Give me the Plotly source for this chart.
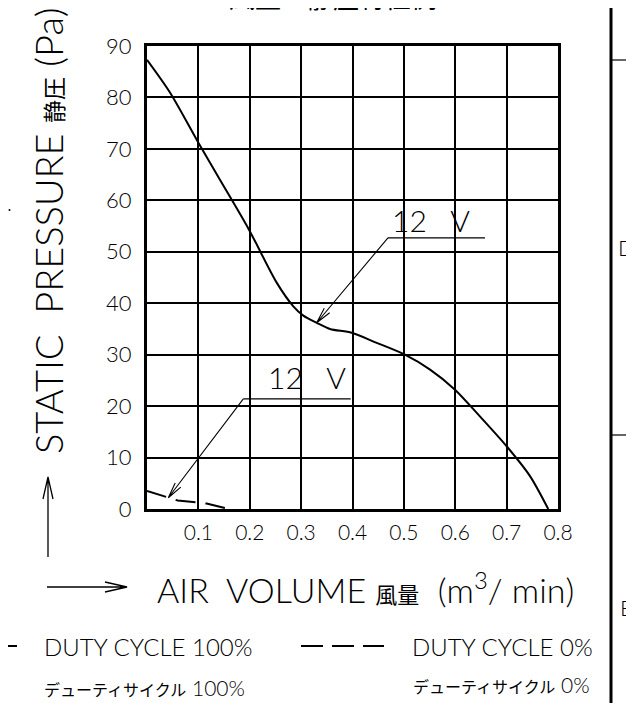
import math
import plotly.graph_objects as go

# ---- data ----
air_100 = [0.0, 0.045, 0.1, 0.142, 0.1985, 0.2524, 0.2848, 0.3043, 0.3303, 0.3562, 0.3984,
           0.4471, 0.502, 0.551, 0.5995, 0.648, 0.700, 0.7455, 0.781]
pres_100 = [87.3, 80.9, 71.2, 64.0, 54.3, 44.0, 39.4, 37.6, 36.2, 35.0, 34.25,
            32.3, 30.0, 27.1, 23.2, 18.0, 12.2, 6.4, 0.0]

air_0 = [0.0, 0.042, 0.06, 0.097, 0.116, 0.155]
pres_0 = [3.5, 2.2, 1.65, 1.3, 1.05, 0.1]

x_ticks = [0.1, 0.2, 0.3, 0.4, 0.5, 0.6, 0.7, 0.8]
x_tick_labels = ["0.1", "0.2", "0.3", "0.4", "0.5", "0.6", "0.7", "0.8"]
y_ticks = [0, 10, 20, 30, 40, 50, 60, 70, 80, 90]
y_tick_labels = ["0", "10", "20", "30", "40", "50", "60", "70", "80", "90"]

label_100 = "DUTY CYCLE 100%"
label_0 = "DUTY CYCLE 0%"
label_jp = "デューティサイクル"
title_text = "風量－静圧特性例"
volt_label = "12\u00a0\u00a0\u00a0V"

# leader annotations (tip, elbow, end of underline, text centre) in data units
lead_hi = dict(tip=(0.3303, 36.2), elbow=(0.469, 52.7), end=0.658, text=(0.553, 56.1))
lead_lo = dict(tip=(0.0415, 2.18), elbow=(0.1875, 21.4), end=0.3965, text=(0.3105, 25.7))

FONT = "Lato, Liberation Sans, Arial, sans-serif"
WT = 300
CJK = "Noto Sans CJK JP, sans-serif"

W, H = 634, 703
OFF = 8  # page body margin
L, T = 147 - OFF, 46 - OFF
PW, PH = 411, 463
R, B = W - L - PW, H - T - PH
X0, Y0 = 147, 509  # screen position of plot origin
XMAX, YMAX = 0.8, 90


def xp(px):
    return (px - X0) / PW


def yp(py):
    return (Y0 - py) / PH


def d2s(x, y):
    return X0 + x / XMAX * PW, Y0 - y / YMAX * PH


def s2d(px, py):
    return xp(px) * XMAX, yp(py) * YMAX


def head(tip_s, tail_s, length, half):
    tx, ty = tip_s
    sx, sy = tail_s
    dx, dy = tx - sx, ty - sy
    n = math.hypot(dx, dy)
    ux, uy = dx / n, dy / n
    bx, by = tx - ux * length, ty - uy * length
    return (bx - uy * half, by + ux * half), (bx + uy * half, by - ux * half)


def arrow_path_paper(tip_s, tail_s, length=22, half=5):
    h1, h2 = head(tip_s, tail_s, length, half)
    f = lambda p: f"{xp(p[0]):.5f},{yp(p[1]):.5f}"
    return f"M{f(tail_s)} L{f(tip_s)} M{f(h1)} L{f(tip_s)} L{f(h2)}"


def arrow_path_data(tip_d, tail_d, length=16, half=3.5):
    tip_s, tail_s = d2s(*tip_d), d2s(*tail_d)
    h1, h2 = head(tip_s, tail_s, length, half)
    f = lambda p: "{:.5f},{:.5f}".format(*s2d(*p))
    return f"M{f(tail_s)} L{f(tip_s)} M{f(h1)} L{f(tip_s)} L{f(h2)}"


def tfont(size):
    return dict(family=FONT, size=size, color="black", weight=WT)


fig = go.Figure()
fig.add_trace(go.Scatter(x=air_100, y=pres_100, mode="lines",
                         line=dict(color="black", width=2, shape="spline", smoothing=0.8),
                         showlegend=False, hoverinfo="skip"))
fig.add_trace(go.Scatter(x=air_0, y=pres_0, mode="lines", line=dict(color="black", width=2, dash="20px,10px"),
                         showlegend=False, hoverinfo="skip"))

shapes = []
annos = []

for ld in (lead_hi, lead_lo):
    ex, ey = ld["elbow"]
    shapes.append(dict(type="line", xref="x", yref="y", x0=ex, x1=ld["end"], y0=ey, y1=ey,
                       line=dict(color="black", width=1.2)))
    shapes.append(dict(type="path", xref="x", yref="y", path=arrow_path_data(ld["tip"], ld["elbow"]),
                       line=dict(color="black", width=1.1)))
    annos.append(dict(xref="x", yref="y", x=ld["text"][0], y=ld["text"][1], text=volt_label, showarrow=False,
                      font=tfont(30)))

# title (clipped at the top edge)
annos.append(dict(xref="paper", yref="paper", x=xp(332.5), y=yp(-3.5), text=title_text, showarrow=False,
                  xanchor="center", yanchor="middle", font=dict(family=CJK, size=26, color="black")))

# y-axis title and arrow
annos.append(dict(xref="paper", yref="paper", x=xp(48), y=yp(231), textangle=-90, showarrow=False,
                  xanchor="center", yanchor="middle",
                  text="STATIC\u00a0\u00a0PRESSURE <span style='font-family:Noto Sans CJK JP;font-size:23px;font-weight:400'>静圧</span>\u00a0(Pa)",
                  font=tfont(38)))
shapes.append(dict(type="path", xref="paper", yref="paper", path=arrow_path_paper((48, 477), (48, 557)),
                   line=dict(color="black", width=1.3)))
shapes.append(dict(type="circle", xref="paper", yref="paper", x0=xp(8.5), x1=xp(10.5), y0=yp(211), y1=yp(209),
                   fillcolor="black", line=dict(width=0)))

# x-axis title and arrow
shapes.append(dict(type="path", xref="paper", yref="paper", path=arrow_path_paper((127, 587), (47, 587)),
                   line=dict(color="black", width=1.3)))
annos.append(dict(xref="paper", yref="paper", x=xp(155), y=yp(588), xanchor="left", yanchor="middle",
                  showarrow=False,
                  text="AIR\u00a0\u00a0VOLUME <span style='font-family:Noto Sans CJK JP;font-size:22px;font-weight:400'>風量</span>\u00a0\u00a0(m<sup>3</sup>/\u00a0min)",
                  font=tfont(34)))

# legend samples
shapes.append(dict(type="line", xref="paper", yref="paper", x0=xp(-10), x1=xp(17), y0=yp(646), y1=yp(646),
                   line=dict(color="black", width=2)))
shapes.append(dict(type="line", xref="paper", yref="paper", x0=xp(301), x1=xp(384), y0=yp(646), y1=yp(646),
                   line=dict(color="black", width=2, dash="22px,9px")))
annos.append(dict(xref="paper", yref="paper", x=xp(42), y=yp(646), xanchor="left", yanchor="middle",
                  showarrow=False, text=label_100, font=tfont(24)))
annos.append(dict(xref="paper", yref="paper", x=xp(410), y=yp(646), xanchor="left", yanchor="middle",
                  showarrow=False, text=label_0, font=tfont(24)))
annos.append(dict(xref="paper", yref="paper", x=xp(42), y=yp(688), xanchor="left", yanchor="middle",
                  showarrow=False,
                  text=f"<span style='font-family:Noto Sans CJK JP;font-size:16px;font-weight:400'>{label_jp}</span>\u00a0100%",
                  font=tfont(21)))
annos.append(dict(xref="paper", yref="paper", x=xp(411), y=yp(685), xanchor="left", yanchor="middle",
                  showarrow=False,
                  text=f"<span style='font-family:Noto Sans CJK JP;font-size:16px;font-weight:400'>{label_jp}</span>\u00a00%",
                  font=tfont(21)))

# drawing frame on the right
shapes.append(dict(type="line", xref="paper", yref="paper", x0=xp(611), x1=xp(611), y0=yp(-10), y1=yp(720),
                   line=dict(color="black", width=3)))
shapes.append(dict(type="line", xref="paper", yref="paper", x0=xp(611), x1=xp(640), y0=yp(60), y1=yp(60),
                   line=dict(color="black", width=1.2)))
shapes.append(dict(type="line", xref="paper", yref="paper", x0=xp(611), x1=xp(627), y0=yp(435), y1=yp(435),
                   line=dict(color="black", width=1.2)))
annos.append(dict(xref="paper", yref="paper", x=xp(626.5), y=yp(247.5), xanchor="center", showarrow=False,
                  text="D", font=tfont(22)))
annos.append(dict(xref="paper", yref="paper", x=xp(626.5), y=yp(622.5), xanchor="center", showarrow=False,
                  text="E", font=tfont(22)))

fig.update_layout(
    width=W, height=H,
    margin=dict(l=L, r=R, t=T, b=B, pad=0),
    paper_bgcolor="white", plot_bgcolor="white",
    shapes=shapes, annotations=annos,
    showlegend=False,
)
fig.update_xaxes(range=[0, XMAX], tickvals=x_ticks, ticktext=x_tick_labels, showgrid=True,
                 gridcolor="black", gridwidth=2, showline=True, mirror=True, linecolor="black", linewidth=3,
                 zeroline=False, ticks="", ticklabelstandoff=3,
                 tickfont=tfont(21), fixedrange=True)
fig.update_yaxes(range=[0, YMAX], tickvals=y_ticks, ticktext=y_tick_labels, showgrid=True,
                 gridcolor="black", gridwidth=2, showline=True, mirror=True, linecolor="black", linewidth=3,
                 zeroline=False, ticks="", ticklabelstandoff=8,
                 tickfont=tfont(22), fixedrange=True)

fig.write_html("out.html")
